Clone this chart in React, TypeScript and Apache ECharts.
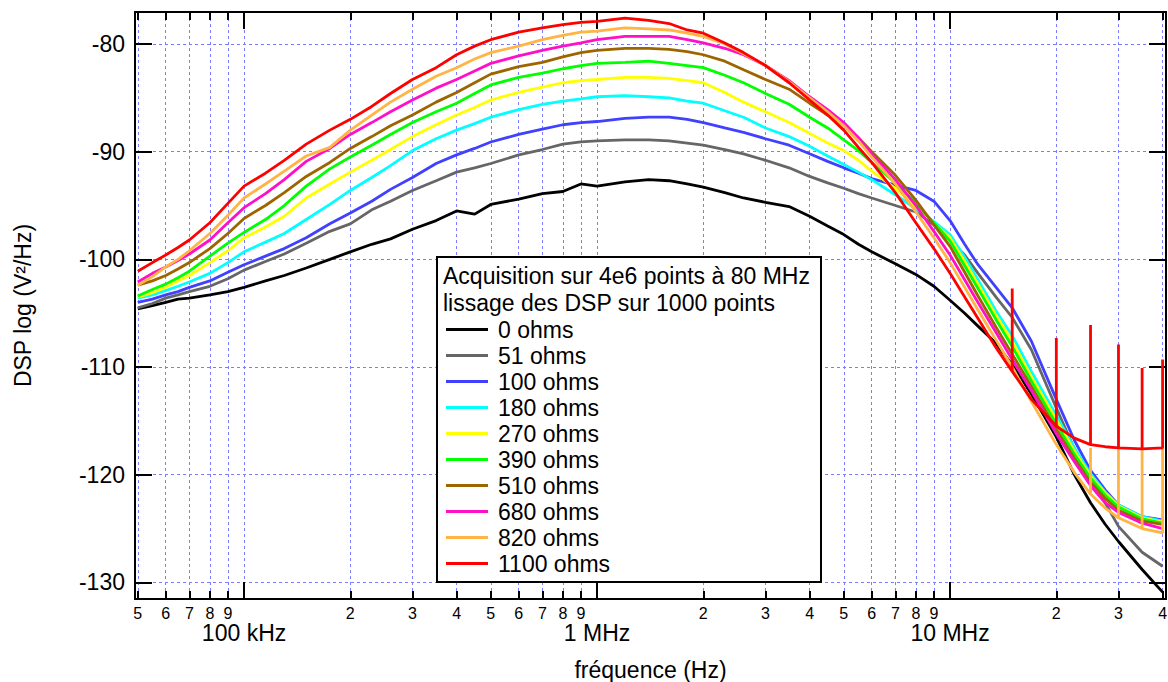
import React, { useEffect, useRef } from "react";
import * as echarts from "echarts";

const FONT = "'Liberation Sans', Arial, Helvetica, sans-serif";

// Frequencies (Hz) at which the curves were read
const FREQ = [
  50e3, 55e3, 60e3, 65e3, 70e3, 80e3, 90e3,
  100e3, 115e3, 130e3, 150e3, 175e3, 200e3, 230e3, 260e3, 300e3, 350e3, 400e3, 450e3, 500e3, 600e3, 700e3, 800e3, 900e3,
  1e6, 1.2e6, 1.4e6, 1.6e6, 1.8e6, 2e6, 2.3e6, 2.6e6, 3e6, 3.5e6, 4e6, 4.5e6, 5e6, 5.5e6, 6e6, 7e6, 8e6, 9e6,
  10e6, 11e6, 12e6, 13.5e6, 15e6, 17e6, 20e6, 22.5e6, 25e6, 27.5e6, 30e6, 35e6, 40e6,
];

const NAMES = ["0 ohms", "51 ohms", "100 ohms", "180 ohms", "270 ohms", "390 ohms", "510 ohms", "680 ohms", "820 ohms", "1100 ohms"];
const COLORS = ["#000000", "#666666", "#4040ff", "#00ffff", "#ffff00", "#00ff00", "#9c6500", "#ff10c8", "#ffb443", "#ff0000"];

const R0 = [
  -104.6, -104.3, -104.0, -103.7, -103.6, -103.3, -103.0,
  -102.6, -102.0, -101.5, -100.8, -100.0, -99.3, -98.6, -98.1, -97.2, -96.4, -95.5, -95.8, -94.9, -94.4, -93.9, -93.7, -93.0,
  -93.2, -92.8, -92.6, -92.7, -93.0, -93.3, -93.8, -94.3, -94.7, -95.1, -96.0, -96.9, -97.7, -98.6, -99.3, -100.4, -101.4, -102.5,
  -103.8, -105.0, -106.2, -107.8, -109.8, -112.5, -116.5, -120.0, -122.6, -124.6, -126.2, -128.8, -130.9,
];
const R51 = [
  -104.5, -104.1, -103.6, -103.3, -103.0, -102.5, -101.8,
  -101.0, -100.2, -99.5, -98.5, -97.4, -96.7, -95.4, -94.6, -93.6, -92.7, -91.9, -91.5, -91.1, -90.3, -89.8, -89.3, -89.1,
  -89.0, -88.9, -88.9, -89.0, -89.2, -89.4, -89.8, -90.2, -90.8, -91.5, -92.3, -92.9, -93.4, -93.9, -94.3, -95.0, -95.6, -96.8,
  -98.2, -99.6, -101.3, -103.5, -105.4, -108.4, -113.8, -117.6, -120.0, -122.6, -124.8, -127.2, -128.5,
];
const R100 = [
  -104.0, -103.7, -103.3, -103.0, -102.6, -102.0, -101.2,
  -100.5, -99.7, -99.0, -98.0, -96.7, -95.7, -94.6, -93.5, -92.4, -91.1, -90.3, -89.7, -89.1, -88.4, -87.9, -87.5, -87.3,
  -87.2, -86.9, -86.8, -86.8, -87.0, -87.3, -87.8, -88.2, -88.8, -89.4, -90.2, -90.9, -91.5, -92.0, -92.5, -93.1, -93.6, -94.6,
  -96.4, -98.6, -100.5, -102.6, -104.5, -107.6, -113.0, -116.8, -119.6, -121.4, -122.8, -123.9, -124.2,
];
const R180 = [
  -103.6, -103.3, -102.9, -102.5, -102.1, -101.3, -100.3,
  -99.3, -98.4, -97.6, -96.3, -94.9, -93.6, -92.4, -91.3, -89.9, -88.8, -88.0, -87.4, -86.8, -86.1, -85.6, -85.3, -85.1,
  -84.9, -84.8, -84.9, -85.0, -85.3, -85.5, -86.2, -86.8, -87.8, -88.6, -89.5, -90.4, -91.2, -91.9, -92.6, -94.0, -95.3, -96.5,
  -97.7, -99.8, -101.9, -104.8, -107.1, -110.4, -114.5, -117.5, -119.9, -121.6, -122.8, -123.9, -124.3,
];
const R270 = [
  -103.5, -103.1, -102.6, -102.0, -101.5, -100.3, -99.2,
  -98.0, -97.0, -96.0, -94.3, -93.0, -91.9, -90.8, -89.8, -88.6, -87.5, -86.6, -85.9, -85.2, -84.5, -84.0, -83.6, -83.4,
  -83.3, -83.1, -83.1, -83.2, -83.4, -83.6, -84.5, -85.4, -86.3, -87.3, -88.3, -89.2, -89.9, -90.8, -91.8, -93.4, -95.1, -96.6,
  -98.0, -100.2, -102.3, -105.2, -107.6, -110.9, -114.9, -117.8, -120.1, -121.7, -122.9, -124.0, -124.4,
];
const R390 = [
  -103.4, -102.8, -102.3, -101.7, -101.1, -99.7, -98.5,
  -97.5, -96.3, -95.0, -93.2, -91.6, -90.5, -89.4, -88.4, -87.3, -86.3, -85.5, -84.6, -83.8, -83.1, -82.7, -82.3, -82.0,
  -81.8, -81.7, -81.6, -81.8, -82.0, -82.2, -82.9, -83.6, -84.6, -85.6, -86.8, -87.8, -88.9, -89.9, -91.0, -92.9, -94.8, -96.6,
  -98.3, -100.6, -102.7, -105.6, -108.1, -111.3, -115.3, -118.1, -120.3, -121.9, -123.0, -124.1, -124.5,
];
const R510 = [
  -102.4, -102.0, -101.5, -100.9, -100.3, -99.0, -97.6,
  -96.2, -95.0, -93.8, -92.3, -91.0, -89.7, -88.6, -87.6, -86.6, -85.4, -84.5, -83.6, -82.8, -82.1, -81.7, -81.2, -80.8,
  -80.6, -80.4, -80.4, -80.5, -80.7, -81.0, -81.6, -82.4, -83.3, -84.2, -85.5, -86.6, -87.5, -88.7, -90.0, -92.2, -94.5, -96.8,
  -98.8, -101.2, -103.4, -106.3, -108.8, -111.8, -115.8, -118.5, -120.7, -122.2, -123.3, -124.3, -124.6,
];
const R680 = [
  -102.1, -101.3, -100.7, -100.1, -99.5, -98.2, -96.6,
  -95.2, -93.9, -92.6, -90.9, -89.7, -88.4, -87.3, -86.3, -85.2, -84.1, -83.3, -82.5, -81.8, -81.1, -80.6, -80.2, -79.9,
  -79.6, -79.3, -79.3, -79.3, -79.6, -79.9, -80.4, -81.0, -82.0, -83.4, -84.9, -86.1, -87.3, -88.7, -90.2, -92.6, -95.0, -97.4,
  -99.6, -101.9, -104.0, -106.8, -109.3, -112.2, -116.2, -118.8, -121.0, -122.6, -123.5, -124.5, -125.0,
];
const R820 = [
  -102.4, -101.6, -100.7, -100.0, -99.2, -97.6, -95.9,
  -94.3, -93.0, -91.8, -90.4, -89.6, -88.0, -86.6, -85.4, -84.2, -83.0, -82.2, -81.4, -80.8, -80.2, -79.6, -79.2, -78.9,
  -78.8, -78.5, -78.6, -78.7, -79.0, -79.3, -80.0, -80.9, -82.0, -83.5, -85.0, -86.3, -87.6, -89.0, -90.5, -93.0, -95.6, -98.0,
  -100.3, -102.6, -104.7, -107.5, -110.0, -113.2, -117.2, -119.8, -121.8, -123.1, -124.0, -125.0, -125.4,
];
const R1100 = [
  -101.1, -100.3, -99.6, -98.9, -98.2, -96.6, -94.8,
  -93.2, -92.0, -90.8, -89.3, -88.0, -87.0, -85.8, -84.6, -83.3, -82.2, -81.0, -80.2, -79.6, -78.9, -78.5, -78.2, -78.0,
  -77.9, -77.6, -77.8, -78.1, -78.7, -79.0, -79.9, -80.8, -82.0, -83.6, -85.2, -86.6, -88.0, -89.6, -91.0, -93.8, -96.6, -99.0,
  -101.3, -103.5, -105.5, -108.2, -110.4, -113.0, -115.5, -116.6, -117.2, -117.4, -117.5, -117.6, -117.5,
];
const SERIES_VALUES = [R0, R51, R100, R180, R270, R390, R510, R680, R820, R1100];

// Narrow spikes (frequency, top value)
const RED_SPIKE_FREQ = [15e6, 20e6, 25e6, 30e6, 35e6, 40e6];
const RED_SPIKE_TOP = [-102.7, -107.3, -106.1, -107.9, -110.1, -109.3];
const ORANGE_SPIKE_FREQ = [25e6, 30e6, 35e6, 40e6];
const ORANGE_SPIKE_TOP = [-117.5, -117.5, -117.6, -117.5];

const MINOR_TICKS = [5e4, 6e4, 7e4, 8e4, 9e4, 2e5, 3e5, 4e5, 5e5, 6e5, 7e5, 8e5, 9e5, 2e6, 3e6, 4e6, 5e6, 6e6, 7e6, 8e6, 9e6, 2e7, 3e7, 4e7];
const MINOR_LABELS = ["5", "6", "7", "8", "9", "2", "3", "4", "5", "6", "7", "8", "9", "2", "3", "4", "5", "6", "7", "8", "9", "2", "3", "4"];
const MAJOR_TICKS = [1e5, 1e6, 1e7];
const MAJOR_LABELS = ["100 kHz", "1 MHz", "10 MHz"];
const Y_TICKS = [-130, -120, -110, -100, -90, -80];

const X_MIN = 49.1e3;
const X_MAX = 40.9e6;
const Y_MIN = -131.54;
const Y_MAX = -77.03;

const HEADER = ["Acquisition sur 4e6 points à 80 MHz", "lissage des DSP sur 1000 points"];

function findIdx(list: number[], v: number) {
  return list.findIndex((t) => Math.abs(t - v) / t < 1e-6);
}

function buildData(vals: number[], spikeF: number[], spikeTop: number[]) {
  const out: number[][] = [];
  FREQ.forEach((f, i) => {
    out.push([f, vals[i]]);
    const k = spikeF.indexOf(f);
    if (k >= 0) {
      out.push([f, spikeTop[k]]);
      out.push([f, vals[i]]);
    }
  });
  return out;
}

export default function App() {
  const ref = useRef<HTMLDivElement>(null);
  useEffect(() => {
    if (!ref.current) return;
    const chart = echarts.init(ref.current, null, { renderer: "svg" });
    const gridLine = { show: true, lineStyle: { color: "#7c7cff", width: 1, type: [3, 3] as any } };
    const black = { color: "#000", width: 2 };
    const series = SERIES_VALUES.map((vals, i) => {
      let data: number[][];
      if (i === 9) data = buildData(vals, RED_SPIKE_FREQ, RED_SPIKE_TOP);
      else if (i === 8) data = buildData(vals, ORANGE_SPIKE_FREQ, ORANGE_SPIKE_TOP);
      else data = buildData(vals, [], []);
      return {
        type: "line",
        name: NAMES[i],
        data,
        xAxisIndex: 0,
        yAxisIndex: 0,
        symbol: "none",
        showSymbol: false,
        silent: true,
        z: 2 + i,
        lineStyle: { color: COLORS[i], width: 2.8 },
        itemStyle: { color: COLORS[i] },
      };
    });
    const minorFmt = (v: number) => {
      const k = findIdx(MINOR_TICKS, v);
      return k >= 0 ? MINOR_LABELS[k] : "";
    };
    const majorFmt = (v: number) => {
      const k = findIdx(MAJOR_TICKS, v);
      return k >= 0 ? MAJOR_LABELS[k] : "";
    };
    const baseX = (position: string) => ({
      type: "log",
      logBase: 10,
      position,
      gridIndex: 0,
      min: X_MIN,
      max: X_MAX,
      minorTick: { show: false },
      minorSplitLine: { show: false },
    });
    const option: any = {
      animation: false,
      backgroundColor: "#ffffff",
      grid: { left: 135, right: 2, top: 12, bottom: 83, containLabel: false, outerBoundsMode: "none" },
      xAxis: [
        {
          ...baseX("bottom"),
          axisLine: { show: true, onZero: false, lineStyle: black },
          axisTick: { show: true, inside: true, length: 8, customValues: MINOR_TICKS, lineStyle: black },
          axisLabel: { show: true, customValues: MINOR_TICKS, formatter: minorFmt, fontSize: 16, fontFamily: FONT, color: "#000", margin: 6 },
          splitLine: gridLine,
        },
        {
          ...baseX("bottom"),
          axisLine: { show: false },
          axisTick: { show: true, inside: true, length: 17, customValues: MAJOR_TICKS, lineStyle: black },
          axisLabel: { show: true, customValues: MAJOR_TICKS, formatter: majorFmt, fontSize: 23, fontFamily: FONT, color: "#000", margin: 22 },
          splitLine: gridLine,
          name: "fréquence (Hz)",
          nameLocation: "middle",
          nameGap: 59,
          nameTextStyle: { fontSize: 23, fontFamily: FONT, color: "#000" },
        },
        {
          ...baseX("top"),
          axisLine: { show: true, onZero: false, lineStyle: black },
          axisTick: { show: true, inside: true, length: 8, customValues: MINOR_TICKS, lineStyle: black },
          axisLabel: { show: false },
          splitLine: { show: false },
        },
        {
          ...baseX("top"),
          axisLine: { show: false },
          axisTick: { show: true, inside: true, length: 17, customValues: MAJOR_TICKS, lineStyle: black },
          axisLabel: { show: false },
          splitLine: { show: false },
        },
      ],
      yAxis: [
        {
          type: "value",
          position: "left",
          min: Y_MIN,
          max: Y_MAX,
          axisLine: { show: true, onZero: false, lineStyle: black },
          axisTick: { show: true, inside: true, length: 17, customValues: Y_TICKS, lineStyle: black },
          axisLabel: { show: true, customValues: Y_TICKS, fontSize: 23, fontFamily: FONT, color: "#000", margin: 10 },
          splitLine: gridLine,
          name: "DSP log (V²/Hz)",
          nameLocation: "middle",
          nameGap: 101,
          nameRotate: 90,
          nameTextStyle: { fontSize: 23, fontFamily: FONT, color: "#000" },
        },
        {
          type: "value",
          position: "right",
          min: Y_MIN,
          max: Y_MAX,
          axisLine: { show: true, onZero: false, lineStyle: black },
          axisTick: { show: true, inside: true, length: 17, customValues: Y_TICKS, lineStyle: black },
          axisLabel: { show: false },
          splitLine: { show: false },
        },
      ],
      legend: {
        show: true,
        orient: "vertical",
        left: 446,
        top: 318,
        padding: 0,
        icon: "rect",
        itemWidth: 42,
        itemHeight: 3,
        itemGap: 3,
        selectedMode: false,
        data: NAMES,
        z: 20,
        textStyle: { fontSize: 23, fontFamily: FONT, color: "#000", lineHeight: 22, padding: [0, 0, 0, 5] },
      },
      graphic: [
        {
          type: "rect",
          z: 10,
          shape: { x: 437, y: 257, width: 384, height: 325 },
          style: { fill: "#ffffff", stroke: "#000000", lineWidth: 2 },
        },
        {
          type: "text",
          z: 11,
          x: 443,
          y: 276,
          style: { text: HEADER[0], fontSize: 23, fontFamily: FONT, fill: "#000", verticalAlign: "middle" },
        },
        {
          type: "text",
          z: 11,
          x: 443,
          y: 303,
          style: { text: HEADER[1], fontSize: 23, fontFamily: FONT, fill: "#000", verticalAlign: "middle" },
        },
      ],
      series,
    };
    chart.setOption(option);
    return () => chart.dispose();
  }, []);
  return (
    <div
      ref={ref}
      style={{ position: "absolute", left: 0, top: 0, width: 1168, height: 682, background: "#fff" }}
    />
  );
}
